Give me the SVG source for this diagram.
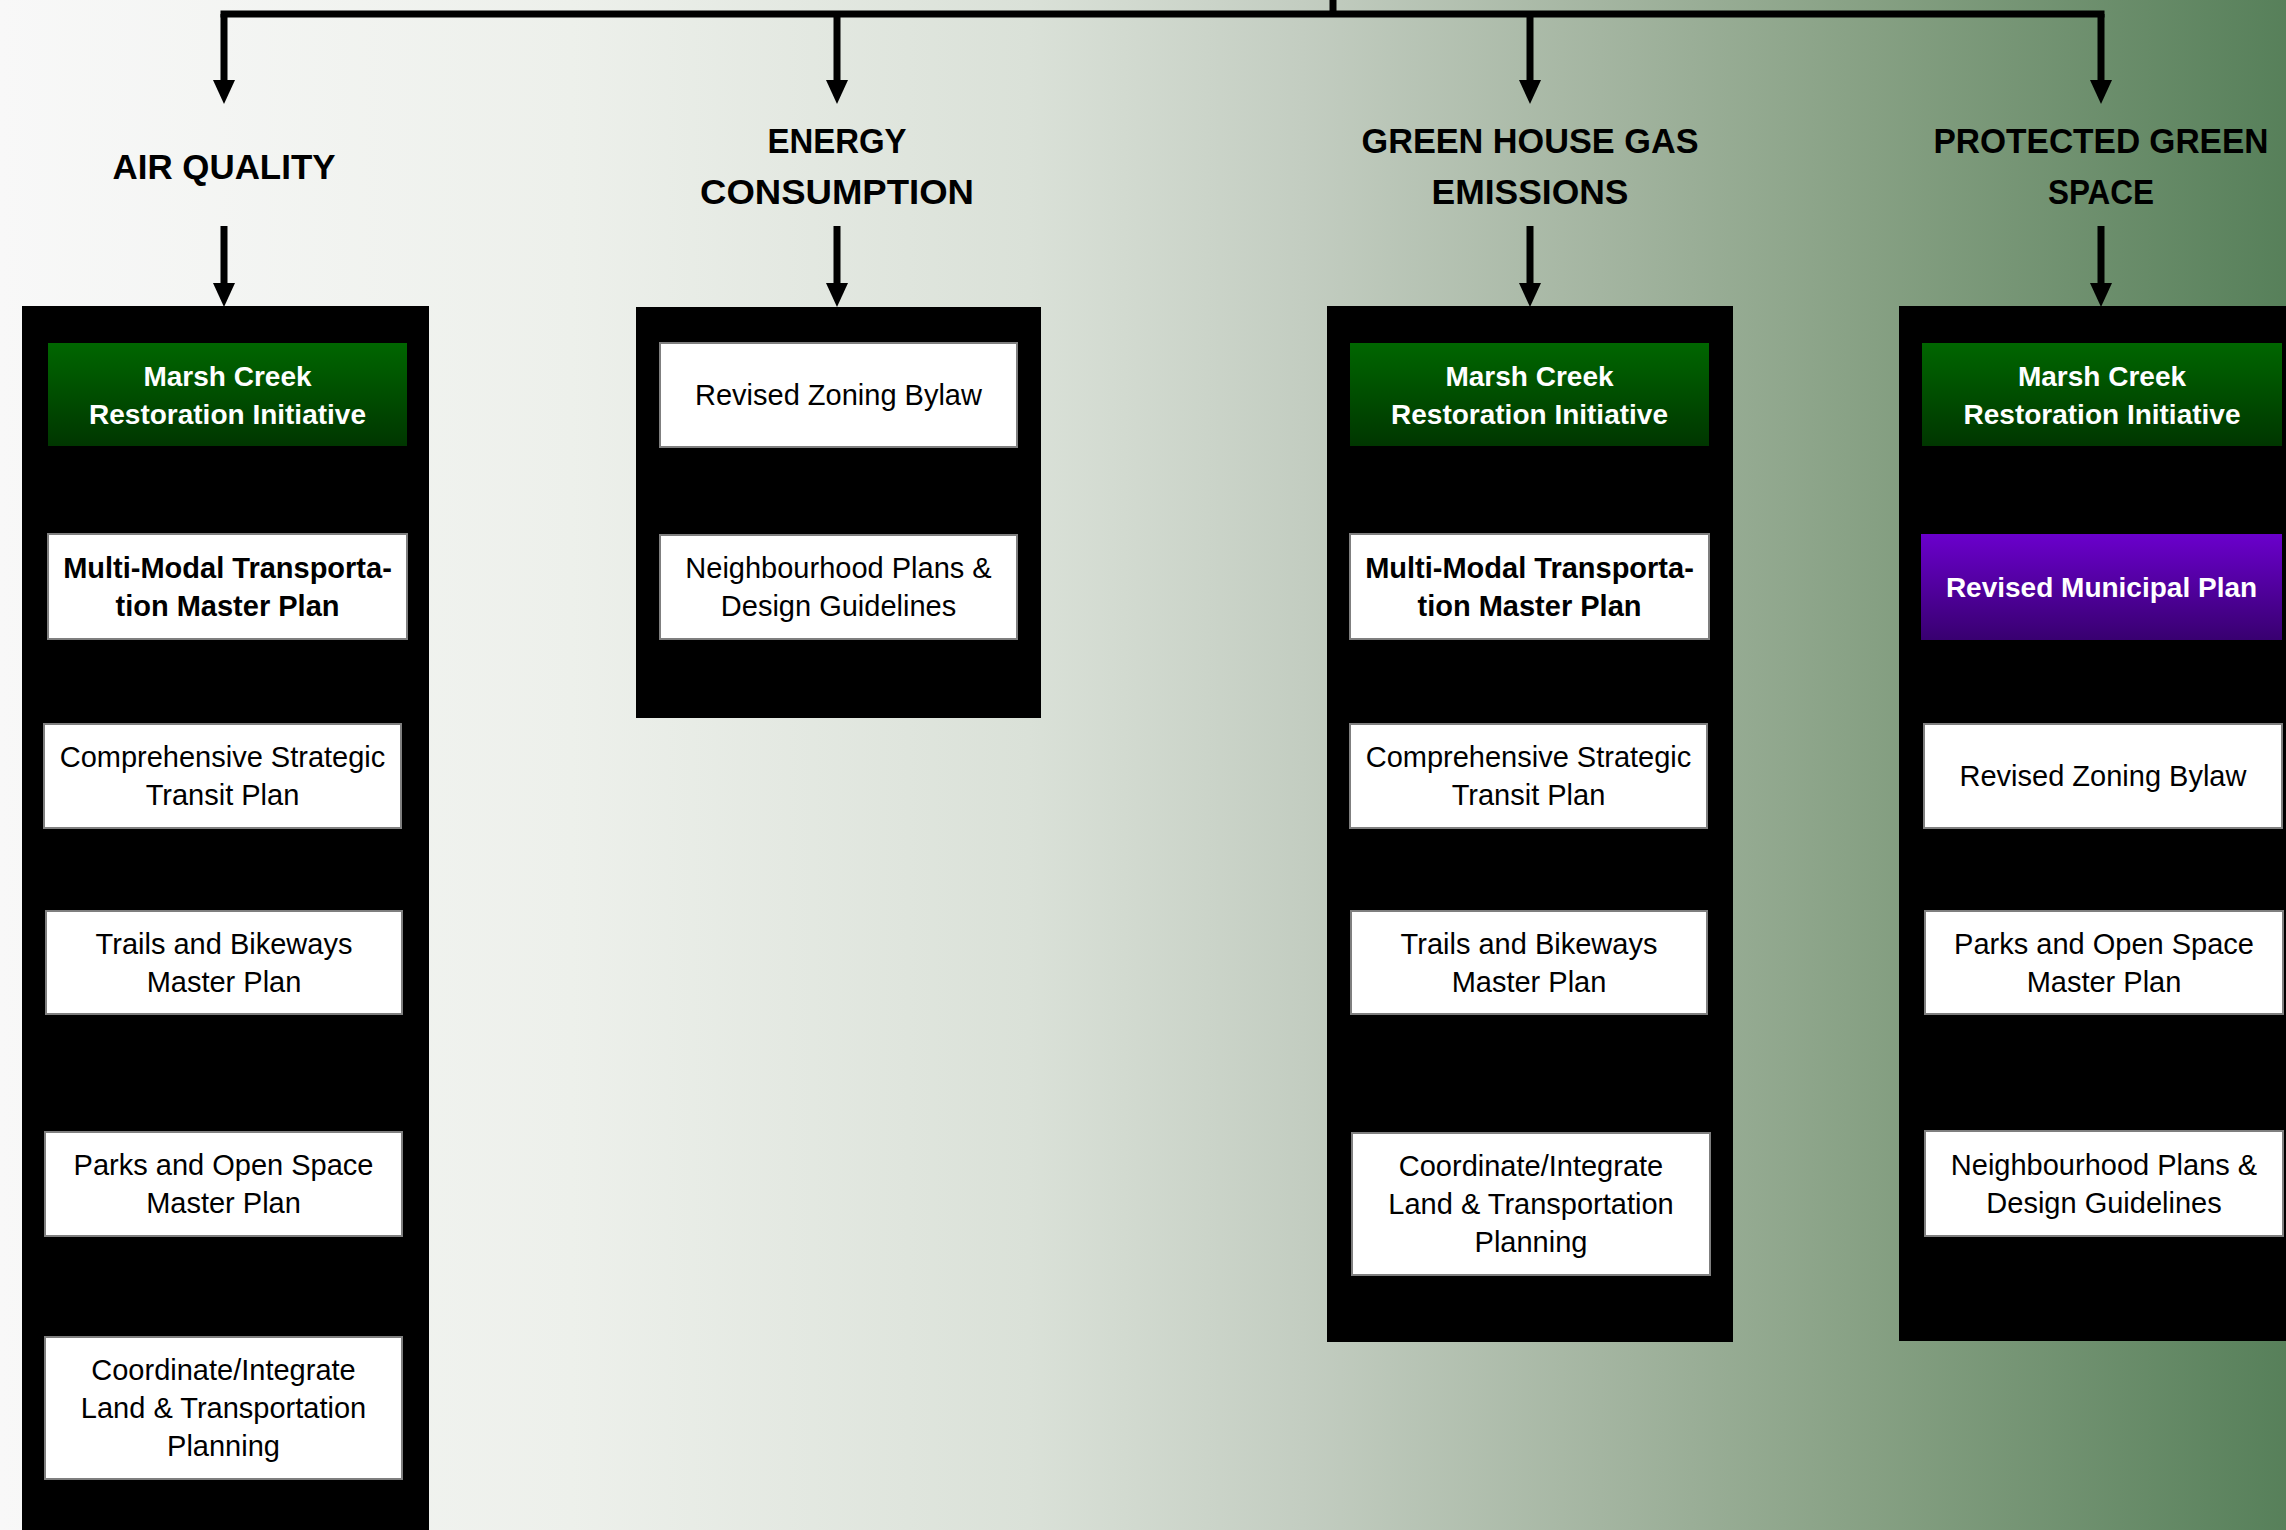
<svg xmlns="http://www.w3.org/2000/svg" width="2286" height="1530" viewBox="0 0 2286 1530">
<style>
.col{fill:#000000}
.wbox{fill:#ffffff;stroke:#7f7f7f;stroke-width:2}
.gbox{fill:url(#gGreen)}
.pbox{fill:url(#gPurple)}
.t{font-family:"Liberation Sans",Arial,sans-serif;font-size:29px;text-anchor:middle;fill:#000000}
.tb{font-family:"Liberation Sans",Arial,sans-serif;font-size:29px;font-weight:bold;text-anchor:middle;fill:#000000}
.tw{font-family:"Liberation Sans",Arial,sans-serif;font-size:28px;font-weight:bold;text-anchor:middle;fill:#ffffff}
.title{font-family:"Liberation Sans",Arial,sans-serif;font-size:35px;font-weight:bold;text-anchor:middle;fill:#000000}
.conn{stroke:#000000;stroke-width:7;fill:none}
</style>
<defs>
<linearGradient id="bg" x1="0" y1="0" x2="1" y2="0">
<stop offset="0" stop-color="#f8f8f8"/>
<stop offset="0.25" stop-color="#edf0eb"/>
<stop offset="0.45" stop-color="#dae1d8"/>
<stop offset="0.57" stop-color="#c3cdc1"/>
<stop offset="0.70" stop-color="#a4b5a1"/>
<stop offset="0.82" stop-color="#86a083"/>
<stop offset="1" stop-color="#57805a"/>
</linearGradient>
<linearGradient id="gGreen" x1="0" y1="0" x2="0" y2="1">
<stop offset="0" stop-color="#006600"/>
<stop offset="1" stop-color="#003600"/>
</linearGradient>
<linearGradient id="gPurple" x1="0" y1="0" x2="0" y2="1">
<stop offset="0" stop-color="#6a00cc"/>
<stop offset="1" stop-color="#380070"/>
</linearGradient>
<marker id="arr" markerUnits="userSpaceOnUse" markerWidth="26" markerHeight="24" refX="4" refY="11" orient="auto" viewBox="0 0 26 24">
<path d="M0,0 L24,11 L0,22 z" fill="#000000"/>
</marker>
</defs>
<rect x="0" y="0" width="2286" height="1530" fill="url(#bg)"/>

<g id="connectors">
<line class="conn" x1="1333" y1="0" x2="1333" y2="14"/>
<line class="conn" x1="220.5" y1="14" x2="2104.5" y2="14"/>
<line class="conn" x1="224" y1="14" x2="224" y2="84" marker-end="url(#arr)"/>
<line class="conn" x1="837" y1="14" x2="837" y2="84" marker-end="url(#arr)"/>
<line class="conn" x1="1530" y1="14" x2="1530" y2="84" marker-end="url(#arr)"/>
<line class="conn" x1="2101" y1="14" x2="2101" y2="84" marker-end="url(#arr)"/>
<line class="conn" x1="224" y1="226" x2="224" y2="287" marker-end="url(#arr)"/>
<line class="conn" x1="837" y1="226" x2="837" y2="287" marker-end="url(#arr)"/>
<line class="conn" x1="1530" y1="226" x2="1530" y2="287" marker-end="url(#arr)"/>
<line class="conn" x1="2101" y1="226" x2="2101" y2="287" marker-end="url(#arr)"/>
</g>

<g id="title-air">
<text class="title" x="224" y="179" textLength="223" lengthAdjust="spacingAndGlyphs">AIR QUALITY</text>
</g>
<g id="title-energy">
<text class="title" x="837" y="153" textLength="139" lengthAdjust="spacingAndGlyphs">ENERGY</text>
<text class="title" x="837" y="204" textLength="274" lengthAdjust="spacingAndGlyphs">CONSUMPTION</text>
</g>
<g id="title-ghg">
<text class="title" x="1530" y="153" textLength="337" lengthAdjust="spacingAndGlyphs">GREEN HOUSE GAS</text>
<text class="title" x="1530" y="204" textLength="197" lengthAdjust="spacingAndGlyphs">EMISSIONS</text>
</g>
<g id="title-pgs">
<text class="title" x="2101" y="153" textLength="335" lengthAdjust="spacingAndGlyphs">PROTECTED GREEN</text>
<text class="title" x="2101" y="204" textLength="106" lengthAdjust="spacingAndGlyphs">SPACE</text>
</g>

<!-- Column 1 -->
<g id="col-air">
<rect class="col" x="22" y="306" width="407" height="1230"/>
</g>
<g id="air-marsh">
<rect class="gbox" x="48" y="343" width="359" height="103"/>
<text class="tw" x="227.5" y="385.5">Marsh Creek</text>
<text class="tw" x="227.5" y="423.5">Restoration Initiative</text>
</g>
<g id="air-multimodal">
<rect class="wbox" x="48" y="534" width="359" height="105"/>
<text class="tb" x="227.5" y="577.5">Multi-Modal Transporta-</text>
<text class="tb" x="227.5" y="615.5">tion Master Plan</text>
</g>
<g id="air-transit">
<rect class="wbox" x="44" y="724" width="357" height="104"/>
<text class="t" x="222.5" y="767">Comprehensive Strategic</text>
<text class="t" x="222.5" y="805">Transit Plan</text>
</g>
<g id="air-trails">
<rect class="wbox" x="46" y="911" width="356" height="103"/>
<text class="t" x="224" y="953.5">Trails and Bikeways</text>
<text class="t" x="224" y="991.5">Master Plan</text>
</g>
<g id="air-parks">
<rect class="wbox" x="45" y="1132" width="357" height="104"/>
<text class="t" x="223.5" y="1175">Parks and Open Space</text>
<text class="t" x="223.5" y="1213">Master Plan</text>
</g>
<g id="air-coordinate">
<rect class="wbox" x="45" y="1337" width="357" height="142"/>
<text class="t" x="223.5" y="1380">Coordinate/Integrate</text>
<text class="t" x="223.5" y="1418">Land &amp; Transportation</text>
<text class="t" x="223.5" y="1456">Planning</text>
</g>

<!-- Column 2 -->
<g id="col-energy">
<rect class="col" x="636" y="307" width="405" height="411"/>
</g>
<g id="energy-zoning">
<rect class="wbox" x="660" y="343" width="357" height="104"/>
<text class="t" x="838.5" y="405">Revised Zoning Bylaw</text>
</g>
<g id="energy-neighbourhood">
<rect class="wbox" x="660" y="535" width="357" height="104"/>
<text class="t" x="838.5" y="578">Neighbourhood Plans &amp;</text>
<text class="t" x="838.5" y="616">Design Guidelines</text>
</g>

<!-- Column 3 -->
<g id="col-ghg">
<rect class="col" x="1327" y="306" width="406" height="1036"/>
</g>
<g id="ghg-marsh">
<rect class="gbox" x="1350" y="343" width="359" height="103"/>
<text class="tw" x="1529.5" y="385.5">Marsh Creek</text>
<text class="tw" x="1529.5" y="423.5">Restoration Initiative</text>
</g>
<g id="ghg-multimodal">
<rect class="wbox" x="1350" y="534" width="359" height="105"/>
<text class="tb" x="1529.5" y="577.5">Multi-Modal Transporta-</text>
<text class="tb" x="1529.5" y="615.5">tion Master Plan</text>
</g>
<g id="ghg-transit">
<rect class="wbox" x="1350" y="724" width="357" height="104"/>
<text class="t" x="1528.5" y="767">Comprehensive Strategic</text>
<text class="t" x="1528.5" y="805">Transit Plan</text>
</g>
<g id="ghg-trails">
<rect class="wbox" x="1351" y="911" width="356" height="103"/>
<text class="t" x="1529" y="953.5">Trails and Bikeways</text>
<text class="t" x="1529" y="991.5">Master Plan</text>
</g>
<g id="ghg-coordinate">
<rect class="wbox" x="1352" y="1133" width="358" height="142"/>
<text class="t" x="1531" y="1176">Coordinate/Integrate</text>
<text class="t" x="1531" y="1214">Land &amp; Transportation</text>
<text class="t" x="1531" y="1252">Planning</text>
</g>

<!-- Column 4 -->
<g id="col-pgs">
<rect class="col" x="1899" y="306" width="400" height="1035"/>
</g>
<g id="pgs-marsh">
<rect class="gbox" x="1922" y="343" width="360" height="103"/>
<text class="tw" x="2102" y="385.5">Marsh Creek</text>
<text class="tw" x="2102" y="423.5">Restoration Initiative</text>
</g>
<g id="pgs-municipal">
<rect class="pbox" x="1921" y="534" width="361" height="106"/>
<text class="tw" x="2101.5" y="597">Revised Municipal Plan</text>
</g>
<g id="pgs-zoning">
<rect class="wbox" x="1924" y="724" width="358" height="104"/>
<text class="t" x="2103" y="786">Revised Zoning Bylaw</text>
</g>
<g id="pgs-parks">
<rect class="wbox" x="1925" y="911" width="358" height="103"/>
<text class="t" x="2104" y="953.5">Parks and Open Space</text>
<text class="t" x="2104" y="991.5">Master Plan</text>
</g>
<g id="pgs-neighbourhood">
<rect class="wbox" x="1925" y="1131" width="358" height="105"/>
<text class="t" x="2104" y="1174.5">Neighbourhood Plans &amp;</text>
<text class="t" x="2104" y="1212.5">Design Guidelines</text>
</g>
</svg>
